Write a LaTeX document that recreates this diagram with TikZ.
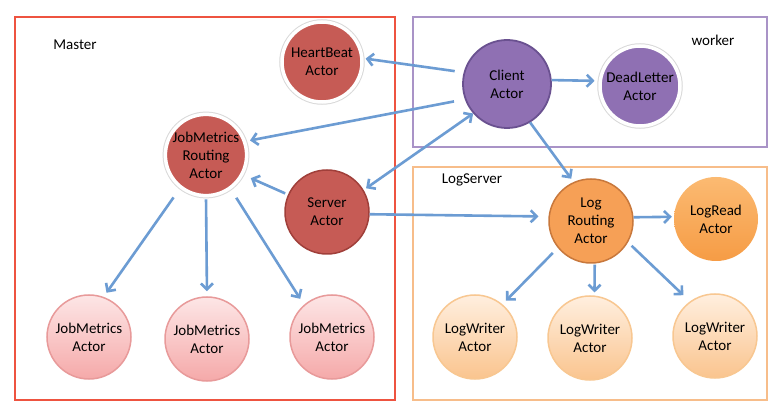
\documentclass[tikz,border=0pt]{standalone}
\usepackage{fontspec}
\setmainfont{Carlito}
\usetikzlibrary{arrows.meta}
\definecolor{msgblue}{HTML}{6C9CD3}
\definecolor{masterred}{HTML}{EE5340}
\definecolor{workerpurple}{HTML}{A993C7}
\definecolor{logorange}{HTML}{F7BD8A}
\definecolor{actred}{HTML}{C65B55}
\definecolor{actredline}{HTML}{A03F3A}
\definecolor{actpurple}{HTML}{8F70B3}
\definecolor{actpurpleline}{HTML}{6A5190}
\definecolor{actorange}{HTML}{F6A056}
\definecolor{actorangeline}{HTML}{C8783C}
\definecolor{jmtop}{HTML}{FDE6E6}
\definecolor{jmbot}{HTML}{F5A9A9}
\definecolor{jmline}{HTML}{E89A9A}
\definecolor{lwtop}{HTML}{FFEFDF}
\definecolor{lwbot}{HTML}{FAC48E}
\definecolor{lwline}{HTML}{F8C791}
\definecolor{lrtop}{HTML}{FBBA72}
\definecolor{lrbot}{HTML}{F69C45}
\tikzset{
  actor/.style={circle, inner sep=0pt, minimum size=84pt, align=center,
    font=\fontsize{15}{18}\selectfont},
  halo/.style={actor, minimum size=80pt, draw=white, line width=3.5pt,
    preaction={draw=black!15, line width=5.5pt}},
  msg/.style={draw=msgblue, line width=2.6pt,
    -{Straight Barb[length=6pt,width=12pt]}},
  boxtitle/.style={font=\fontsize{15}{18}\selectfont},
}
\begin{document}
\begin{tikzpicture}[x=1pt,y=-1pt]
\useasboundingbox[fill=white] (0,0) rectangle (780,414);
% boxes
\draw[masterred, line width=2.5pt] (15,17) rectangle (395,400);
\draw[workerpurple, line width=2.5pt] (413,17) rectangle (767,147);
\draw[logorange, line width=2.5pt] (413,167) rectangle (767,400);
\node[boxtitle] (mastertitle) at (75,45) {Master};
\node[boxtitle] (workertitle) at (713,40) {worker};
\node[boxtitle] (logtitle) at (472,180) {LogServer};
% master
\node[halo, fill=actred] (heartbeat) at (322,62) {HeartBeat\\Actor};
\node[halo, fill=actred] (jmrouting) at (206,155) {JobMetrics\\Routing\\Actor};
\node[actor, fill=actred, draw=actredline, line width=1.5pt] (server) at (327,212) {Server\\Actor};
\node[actor, top color=jmtop, bottom color=jmbot, draw=jmline, line width=1.5pt] (jm1) at (89,337) {JobMetrics\\Actor};
\node[actor, top color=jmtop, bottom color=jmbot, draw=jmline, line width=1.5pt] (jm2) at (207,339) {JobMetrics\\Actor};
\node[actor, top color=jmtop, bottom color=jmbot, draw=jmline, line width=1.5pt] (jm3) at (332,337) {JobMetrics\\Actor};
% worker
\node[actor, minimum size=88pt, fill=actpurple, draw=actpurpleline, line width=1.8pt] (client) at (507,84) {Client\\Actor};
\node[halo, fill=actpurple] (deadletter) at (640,86) {DeadLetter\\Actor};
% log server
\node[actor, fill=actorange, draw=actorangeline, line width=1.5pt] (logrouting) at (591,221) {Log\\Routing\\Actor};
\node[actor, top color=lrtop, bottom color=lrbot] (logread) at (716,219) {LogRead\\Actor};
\node[actor, top color=lwtop, bottom color=lwbot, draw=lwline, line width=1.5pt] (lw1) at (475,337) {LogWriter\\Actor};
\node[actor, top color=lwtop, bottom color=lwbot, draw=lwline, line width=1.5pt] (lw2) at (590,338) {LogWriter\\Actor};
\node[actor, top color=lwtop, bottom color=lwbot, draw=lwline, line width=1.5pt] (lw3) at (715,336) {LogWriter\\Actor};
% messages
\path[msg, shorten <=9pt, shorten >=2pt] (client.165) -- (heartbeat.5);
\path[msg, shorten <=11pt, shorten >=4pt] (client.200) -- (jmrouting.19);
\path[msg, {Straight Barb[length=6pt,width=12pt]}-{Straight Barb[length=6pt,width=12pt]}, shorten >=3pt] (client.221) -- (server.31);
\path[msg, shorten >=4pt] (client.301) -- (logrouting.114);
\path[msg, shorten >=4pt] (client.5) -- (deadletter.173);
\path[msg, shorten <=3pt, shorten >=8pt] (server.156) -- (jmrouting.332);
\path[msg, shorten >=10pt] (server.-3) -- (logrouting.174);
\path[msg, shorten <=11pt, shorten >=5pt] (jmrouting.232) -- (jm1.70);
\path[msg, shorten <=2pt, shorten >=5pt] (jmrouting.270) -- (jm2.90);
\path[msg, shorten <=10pt, shorten >=7pt] (jmrouting.306) -- (jm3.131);
\path[msg, shorten >=2pt] (logrouting.5) -- (logread.177);
\path[msg, shorten <=7pt, shorten >=5pt] (logrouting.219) -- (lw1.50);
\path[msg, shorten <=1pt, shorten >=3pt] (logrouting.275) -- (lw2.84);
\path[msg, shorten <=5pt, shorten >=9pt] (logrouting.330) -- (lw3.126);
\end{tikzpicture}
\end{document}
